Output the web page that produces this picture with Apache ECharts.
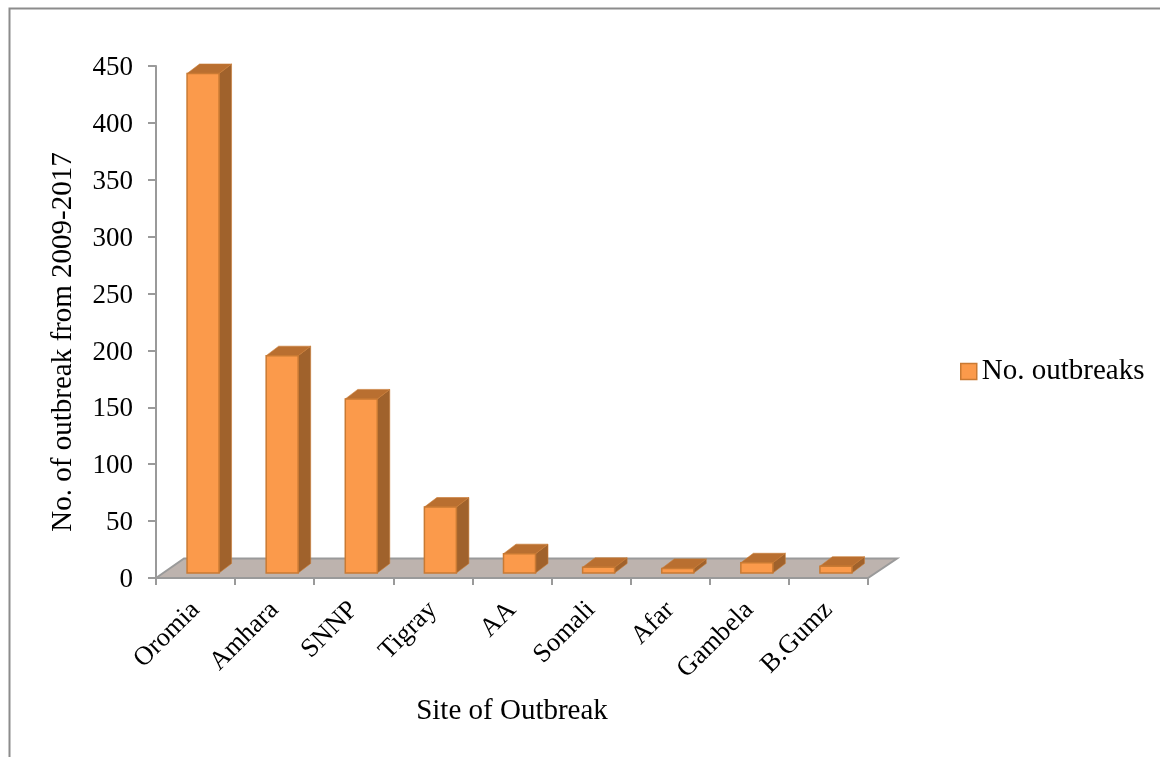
<!DOCTYPE html>
<html>
<head>
<meta charset="utf-8">
<style>html,body{margin:0;padding:0;background:#fff}#chart{width:1160px;height:757px}</style>
<script src="https://cdn.jsdelivr.net/npm/echarts@6/dist/echarts.min.js"></script>
</head>
<body>
<div id="chart"></div>
<script>
// Outbreak counts by region, 2009-2017
const sites = ['Oromia', 'Amhara', 'SNNP', 'Tigray', 'AA', 'Somali', 'Afar', 'Gambela', 'B.Gumz'];
const outbreaks = [439, 191, 153, 58, 17, 5, 4, 9, 6];
const valueTicks = { min: 0, max: 450, interval: 50 };

const serif = '"Liberation Serif"';
const frontColor = '#FB9A4B';
const edgeColor = '#C97A33';
const sideColor = '#A0622C';
const topColor = '#B96F30';
const axisColor = '#9A9A9A';

// Pseudo-3D offsets: depth of the box and where it sits on the floor
const depthX = 12.5, depthY = 9.5;
const floorDepthX = 28, floorDepthY = 19.5;
const barShiftX = 7.5, barShiftY = -5;
const barWidth = 32;

function renderFloor(params, api) {
  const c = params.coordSys;
  const b = c.y + c.height;
  return {
    type: 'polygon',
    silent: true,
    shape: { points: [
      [c.x, b], [c.x + floorDepthX, b - floorDepthY],
      [c.x + c.width + floorDepthX + 1, b - floorDepthY], [c.x + c.width, b]
    ] },
    style: { fill: '#BDB3AE', stroke: axisColor, lineWidth: 2 }
  };
}

function renderBar(params, api) {
  const top = api.coord([api.value(0), api.value(1)]);
  const base = api.coord([api.value(0), 0]);
  const x0 = top[0] - barWidth / 2 + barShiftX;
  const x1 = x0 + barWidth;
  const y0 = top[1] + barShiftY;
  const y1 = base[1] + barShiftY;
  return {
    type: 'group',
    children: [
      { type: 'polygon', shape: { points: [[x1, y0], [x1 + depthX, y0 - depthY], [x1 + depthX, y1 - depthY], [x1, y1]] },
        style: { fill: sideColor, stroke: edgeColor, lineWidth: 0.6 } },
      { type: 'polygon', shape: { points: [[x0, y0], [x0 + depthX, y0 - depthY], [x1 + depthX, y0 - depthY], [x1, y0]] },
        style: { fill: topColor, stroke: edgeColor, lineWidth: 0.6 } },
      { type: 'rect', shape: { x: x0, y: y0, width: barWidth, height: y1 - y0 },
        style: { fill: frontColor, stroke: edgeColor, lineWidth: 1.5 } }
    ]
  };
}

const chart = echarts.init(document.getElementById('chart'), null, { renderer: 'canvas' });
chart.setOption({
  animation: false,
  backgroundColor: '#fff',
  textStyle: { fontFamily: serif, color: '#000' },
  graphic: [
    // Outer frame: only the top and left edges are visible
    { type: 'polyline', silent: true, shape: { points: [[9.5, 757], [9.5, 8.5], [1160, 8.5]] },
      style: { stroke: '#8C8C8C', lineWidth: 2, fill: null } }
  ],
  grid: { left: 156, top: 66, width: 712, height: 512, containLabel: false },
  legend: {
    data: ['No. outbreaks'],
    left: 955,
    top: 352,
    icon: 'rect',
    itemWidth: 16,
    itemHeight: 16,
    textStyle: { fontFamily: serif, fontSize: 29, color: '#000' },
    itemStyle: { color: frontColor, borderColor: edgeColor, borderWidth: 1.5 }
  },
  xAxis: {
    type: 'category',
    data: sites,
    name: 'Site of Outbreak',
    nameLocation: 'middle',
    nameGap: 119,
    nameTextStyle: { fontFamily: serif, fontSize: 29, color: '#000' },
    axisLine: { lineStyle: { color: axisColor, width: 2 } },
    axisTick: { show: true, length: 7, lineStyle: { color: axisColor, width: 2 } },
    axisLabel: { rotate: 45, fontFamily: serif, fontSize: 26.5, color: '#000', margin: 28, interval: 0 },
    splitLine: { show: false }
  },
  yAxis: {
    type: 'value',
    min: valueTicks.min,
    max: valueTicks.max,
    interval: valueTicks.interval,
    name: 'No. of outbreak from 2009-2017',
    nameLocation: 'middle',
    nameGap: 78,
    nameTextStyle: { fontFamily: serif, fontSize: 29, color: '#000', padding: [0, 40, 0, 0] },
    axisLine: { show: true, lineStyle: { color: axisColor, width: 2 } },
    axisTick: { show: true, length: 8, lineStyle: { color: axisColor, width: 2 } },
    axisLabel: {
      margin: 23,
      formatter: '{tick|{value}}',
      rich: { tick: { fontFamily: serif, fontSize: 27, color: '#000', padding: [4, 0, 0, 0] } }
    },
    splitLine: { show: false }
  },
  series: [
    { type: 'custom', name: 'floor', renderItem: renderFloor, data: [[0, 0]], clip: false, silent: true, z: 1 },
    { type: 'custom', name: 'No. outbreaks', renderItem: renderBar, clip: false, z: 2,
      encode: { x: 0, y: 1 },
      itemStyle: { color: frontColor, borderColor: edgeColor },
      data: outbreaks.map((v, i) => [i, v]) }
  ]
});
</script>
</body>
</html>
